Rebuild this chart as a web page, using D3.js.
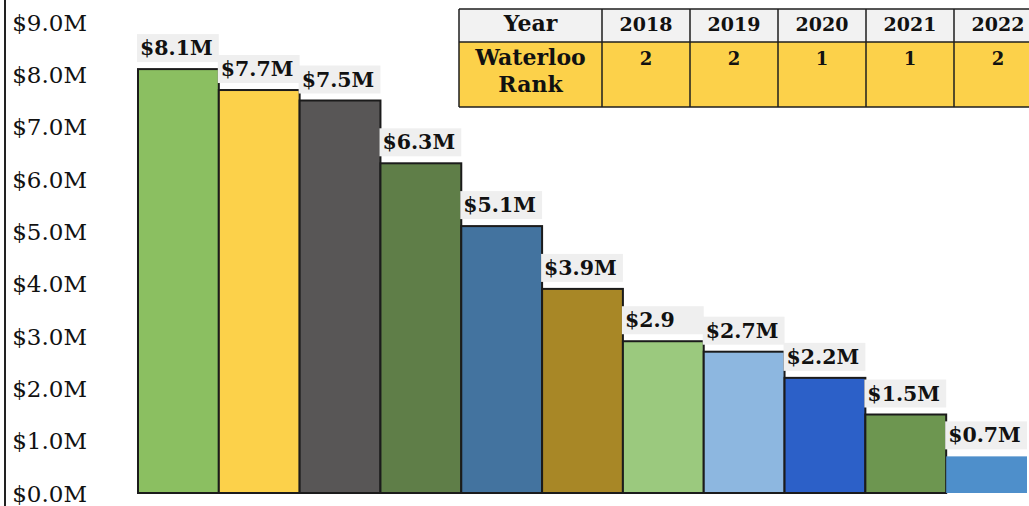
<!DOCTYPE html>
<html>
<head>
<meta charset="utf-8">
<script src="https://cdn.jsdelivr.net/npm/d3@7/dist/d3.min.js"></script>
<style>
  html, body { margin: 0; padding: 0; background: #fff; }
  svg { display: block; }
  text { font-family: "DejaVu Serif", "Liberation Serif", serif; }
</style>
</head>
<body>
<svg id="chart" width="1029" height="506"></svg>
<script>
// Funding per institution, in $M (sorted high to low)
const barIds = ["b1", "b2", "b3", "b4", "b5", "b6", "b7", "b8", "b9", "b10", "b11"];
const barValues = [8.1, 7.7, 7.5, 6.3, 5.1, 3.9, 2.9, 2.7, 2.2, 1.5, 0.7];
const barLabels = ["$8.1M", "$7.7M", "$7.5M", "$6.3M", "$5.1M", "$3.9M", "$2.9", "$2.7M", "$2.2M", "$1.5M", "$0.7M"];
const yTicks = [0, 1, 2, 3, 4, 5, 6, 7, 8, 9];
const yTickLabels = ["$0.0M", "$1.0M", "$2.0M", "$3.0M", "$4.0M", "$5.0M", "$6.0M", "$7.0M", "$8.0M", "$9.0M"];

// Rank table
const rankYears = ["2018", "2019", "2020", "2021", "2022"];
const waterlooRanks = ["2", "2", "1", "1", "2"];

// Bar fills
const barColors = ["#8BBF61", "#FCD14A", "#585656", "#5F7E48", "#43739F", "#A88726",
                   "#9BC97E", "#8DB7E0", "#2C60C8", "#6D9650", "#4E8FCB"];
// the last bar is drawn without an outline
const barStroked = [true, true, true, true, true, true, true, true, true, true, false];

const svg = d3.select("#chart");

const x = d3.scaleBand().domain(barIds).range([138, 1027]).padding(0);
const y = d3.scaleLinear().domain([0, 9]).range([493, 22]);

// Vertical axis line
svg.append("line")
  .attr("x1", 5).attr("x2", 5).attr("y1", 0).attr("y2", 506)
  .attr("stroke", "#222").attr("stroke-width", 2);

// Tick labels, right aligned
const yAxis = d3.axisLeft(y)
  .tickValues(yTicks)
  .tickSize(0)
  .tickFormat((d, i) => yTickLabels[i]);
const gAxis = svg.append("g").attr("transform", "translate(87,0)").call(yAxis);
gAxis.select(".domain").remove();
gAxis.selectAll("text")
  .attr("x", 0)
  .attr("dy", "0.35em")
  .attr("text-anchor", "end")
  .attr("fill", "#111")
  .style("font-family", "'DejaVu Serif', serif")
  .style("font-size", "23px");

// Bars
svg.append("g").selectAll("rect")
  .data(barValues)
  .join("rect")
  .attr("x", (d, i) => x(barIds[i]))
  .attr("y", d => y(d))
  .attr("width", x.bandwidth())
  .attr("height", d => y(0) - y(d))
  .attr("fill", (d, i) => barColors[i])
  .attr("stroke", (d, i) => barStroked[i] ? "#1b1b1b" : "none")
  .attr("stroke-width", 2);

// Value labels with light backgrounds
const lab = svg.append("g").selectAll("g")
  .data(barValues)
  .join("g")
  .attr("transform", (d, i) => `translate(${x(barIds[i])},${y(d) - 7})`);

lab.append("rect")
  .attr("x", -1)
  .attr("y", -28)
  .attr("width", x.bandwidth() + 1)
  .attr("height", 28)
  .attr("fill", "#EFEFEF");

lab.append("text")
  .attr("x", 2)
  .attr("y", -7)
  .attr("font-size", "20.5px")
  .attr("font-weight", "bold")
  .attr("fill", "#111")
  .text((d, i) => barLabels[i]);

// Rank table
const tLeft = 459, tTop = 9, rowMid = 42, tBottom = 107;
const colX = d3.scaleBand().domain(rankYears).range([602, 1042]);

const table = svg.append("g");
table.append("rect")
  .attr("x", tLeft).attr("y", tTop)
  .attr("width", 1042 - tLeft).attr("height", rowMid - tTop)
  .attr("fill", "#F2F2F2");
table.append("rect")
  .attr("x", tLeft).attr("y", rowMid)
  .attr("width", 1042 - tLeft).attr("height", tBottom - rowMid)
  .attr("fill", "#FCD14A");

// grid lines
const gridStroke = "#1e1e1e";
[tTop, rowMid, tBottom].forEach(yy => {
  table.append("line")
    .attr("x1", tLeft).attr("x2", 1042).attr("y1", yy).attr("y2", yy)
    .attr("stroke", gridStroke).attr("stroke-width", 1.5);
});
[tLeft].concat(rankYears.map(d => colX(d))).forEach(xx => {
  table.append("line")
    .attr("x1", xx).attr("x2", xx).attr("y1", tTop).attr("y2", tBottom)
    .attr("stroke", gridStroke).attr("stroke-width", 1.5);
});

// header cells
table.append("text")
  .attr("x", (tLeft + 602) / 2).attr("y", 31)
  .attr("text-anchor", "middle")
  .attr("font-size", "22px").attr("font-weight", "bold").attr("fill", "#111")
  .text("Year");
table.selectAll("text.year")
  .data(rankYears)
  .join("text")
  .attr("class", "year")
  .attr("x", d => colX(d) + colX.bandwidth() / 2).attr("y", 31)
  .attr("text-anchor", "middle")
  .attr("font-size", "19px").attr("font-weight", "bold").attr("fill", "#111")
  .text(d => d);

// rank row
const rowHead = table.append("text")
  .attr("text-anchor", "middle")
  .attr("font-size", "22px").attr("font-weight", "bold").attr("fill", "#111");
rowHead.append("tspan").attr("x", (tLeft + 602) / 2).attr("y", 65).text("Waterloo");
rowHead.append("tspan").attr("x", (tLeft + 602) / 2).attr("y", 92).text("Rank");

table.selectAll("text.rank")
  .data(waterlooRanks)
  .join("text")
  .attr("class", "rank")
  .attr("x", (d, i) => colX(rankYears[i]) + colX.bandwidth() / 2).attr("y", 65)
  .attr("text-anchor", "middle")
  .attr("font-size", "18px").attr("font-weight", "bold").attr("fill", "#111")
  .text(d => d);
</script>
</body>
</html>
